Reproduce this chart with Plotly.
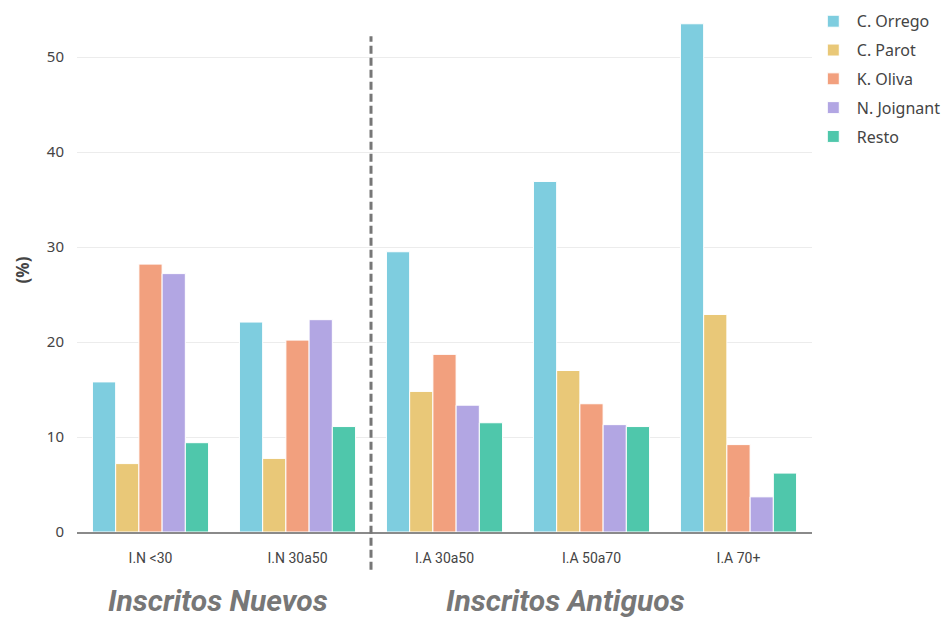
import plotly.graph_objects as go

categories = ["I.N <30", "I.N 30a50", "I.A 30a50", "I.A 50a70", "I.A 70+"]
orrego = [15.8, 22.1, 29.5, 36.9, 53.5]
parot = [7.2, 7.75, 14.8, 17.0, 22.9]
oliva = [28.2, 20.2, 18.7, 13.5, 9.2]
joignant = [27.2, 22.35, 13.35, 11.3, 3.7]
resto = [9.4, 11.1, 11.5, 11.1, 6.2]

series_names = ["C. Orrego", "C. Parot", "K. Oliva", "N. Joignant", "Resto"]
series_values = [orrego, parot, oliva, joignant, resto]
colors = ["#7ECDDF", "#E9C878", "#F2A07E", "#B2A6E3", "#4FC7AB"]

group_labels = ["Inscritos Nuevos", "Inscritos Antiguos"]

fig = go.Figure()
for name, vals, col in zip(series_names, series_values, colors):
    fig.add_trace(go.Bar(
        x=categories, y=vals, name=name, legendgroup=name,
        marker=dict(color=col, line=dict(color="white", width=1)),
    ))

fig.add_shape(type="line", xref="x", yref="paper",
              x0=1.5, x1=1.5, y0=-0.072, y1=0.946,
              line=dict(color="#777777", width=3, dash="8px,4px"))

fig.add_annotation(text="<b><i>" + group_labels[0] + "</i></b>", xref="paper", yref="paper",
                   x=0.192, y=-0.13, showarrow=False, xanchor="center", yanchor="middle",
                   font=dict(family="Roboto", size=30, color="#777777"))
fig.add_annotation(text="<b><i>" + group_labels[1] + "</i></b>", xref="paper", yref="paper",
                   x=0.664, y=-0.13, showarrow=False, xanchor="center", yanchor="middle",
                   font=dict(family="Roboto", size=30, color="#777777"))

fig.update_layout(
    width=944, height=609,
    margin=dict(l=69, r=140, t=0, b=85, autoexpand=False),
    paper_bgcolor="white", plot_bgcolor="white",
    barmode="group", bargap=0.21, bargroupgap=0.0,
    font=dict(family="Noto Sans", size=14, color="#444444"),
    legend=dict(x=0.997, y=1.007, xanchor="left", yanchor="top",
                font=dict(size=16, color="#444444"), tracegroupgap=5,
                itemwidth=37, bgcolor="rgba(0,0,0,0)"),
    xaxis=dict(showgrid=False, showline=True, linecolor="#8a8a8a", linewidth=1.5,
               ticks="", ticklabelstandoff=12,
               tickfont=dict(family="Roboto", size=14, color="#444444")),
    yaxis=dict(range=[0, 55.16], tickvals=[0, 10, 20, 30, 40, 50], showgrid=True,
               gridcolor="#ececec", zeroline=False, showline=False,
               ticks="", ticklabelstandoff=12, tickfont=dict(size=15, color="#444444"),
               title=dict(text="<b>(%)</b>", font=dict(size=17, color="#444444"), standoff=12)),
)

fig.write_html("out.html")
